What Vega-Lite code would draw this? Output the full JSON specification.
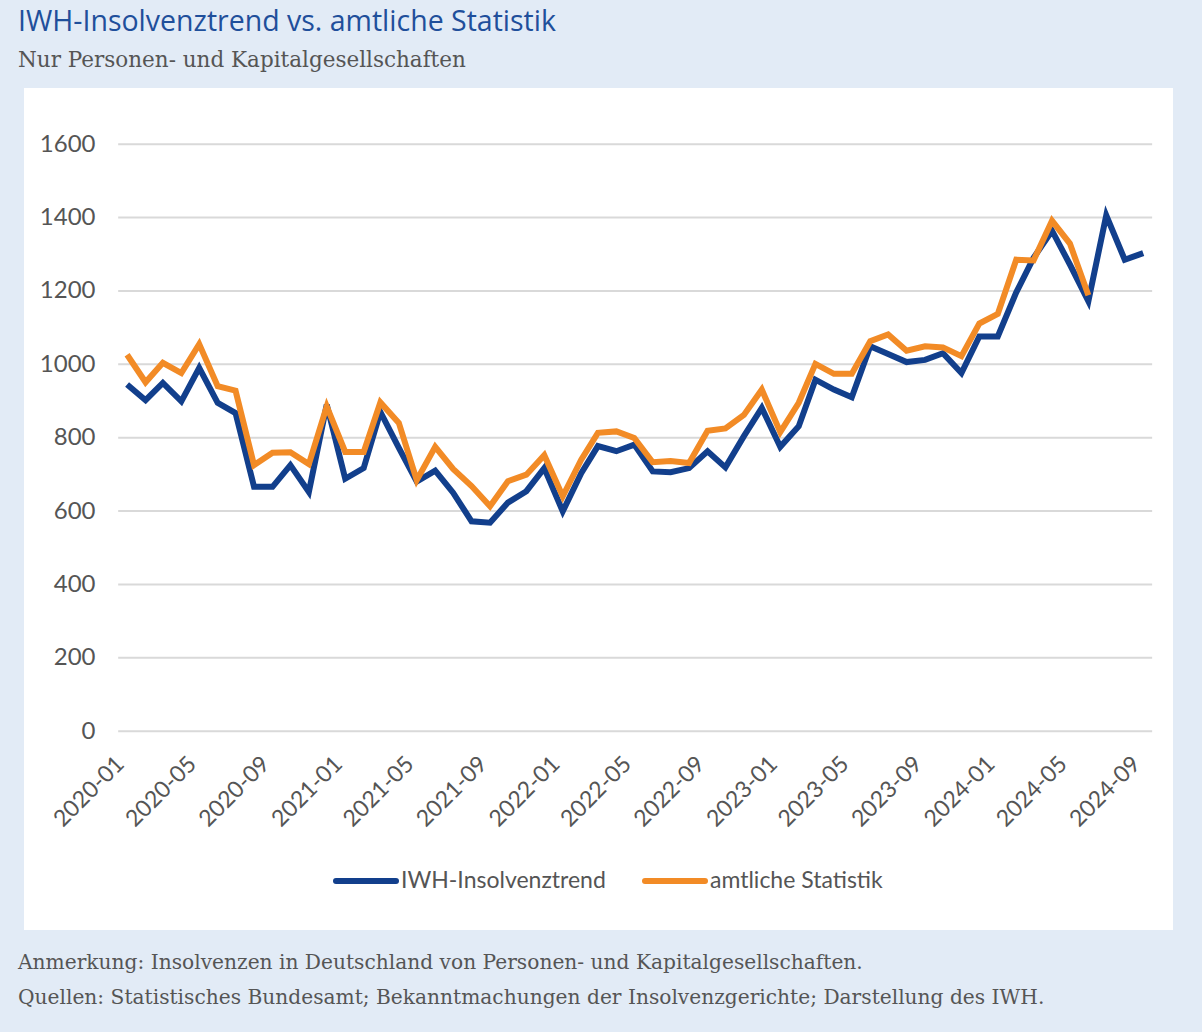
{
  "$schema": "https://vega.github.io/schema/vega-lite/v6.json",
  "background": "#e2ebf6",
  "padding": {"left": 18, "right": 29, "top": 8, "bottom": 30},
  "title": {
    "text": "Anmerkung: Insolvenzen in Deutschland von Personen- und Kapitalgesellschaften.",
    "subtitle": "Quellen: Statistisches Bundesamt; Bekanntmachungen der Insolvenzgerichte; Darstellung des IWH.",
    "orient": "bottom",
    "anchor": "start",
    "frame": "group",
    "dx": -6,
    "offset": 23,
    "font": "DejaVu Serif",
    "fontSize": 20.2,
    "fontWeight": "normal",
    "color": "#555555",
    "subtitleFont": "DejaVu Serif",
    "subtitleFontSize": 20.2,
    "subtitleColor": "#555555",
    "subtitlePadding": 15
  },
  "vconcat": [
    {
      "title": {
        "text": "IWH-Insolvenztrend vs. amtliche Statistik",
        "subtitle": "Nur Personen- und Kapitalgesellschaften",
        "anchor": "start",
        "frame": "group",
        "dx": -6,
        "offset": 17,
        "font": "Open Sans",
        "fontSize": 28.5,
        "fontWeight": "normal",
        "color": "#1f4f9b",
        "subtitleFont": "DejaVu Serif",
        "subtitleFontSize": 21.5,
        "subtitleColor": "#555555",
        "subtitlePadding": 13
      },
      "width": 1149,
      "height": 842,
      "layer": [
        {
          "data": {"values": [{"Wert": 0}, {"Wert": 200}, {"Wert": 400}, {"Wert": 600}, {"Wert": 800}, {"Wert": 1000}, {"Wert": 1200}, {"Wert": 1400}, {"Wert": 1600}]},
          "mark": {"type": "rule", "color": "#d9d9d9", "strokeWidth": 2},
          "encoding": {
            "x": {"datum": {"year": 2019, "month": 12, "date": 17, "utc": true}, "type": "temporal"},
            "x2": {"datum": {"year": 2024, "month": 9, "date": 16, "utc": true}},
            "y": {"field": "Wert", "type": "quantitative"}
          }
        },
        {
          "data": {
            "format": {"parse": {"Monat": "utc:'%Y-%m'"}},
            "values": [
              {"Monat": "2020-01", "Reihe": "IWH-Insolvenztrend", "Wert": 945},
              {"Monat": "2020-02", "Reihe": "IWH-Insolvenztrend", "Wert": 902},
              {"Monat": "2020-03", "Reihe": "IWH-Insolvenztrend", "Wert": 949},
              {"Monat": "2020-04", "Reihe": "IWH-Insolvenztrend", "Wert": 899},
              {"Monat": "2020-05", "Reihe": "IWH-Insolvenztrend", "Wert": 990},
              {"Monat": "2020-06", "Reihe": "IWH-Insolvenztrend", "Wert": 895},
              {"Monat": "2020-07", "Reihe": "IWH-Insolvenztrend", "Wert": 867},
              {"Monat": "2020-08", "Reihe": "IWH-Insolvenztrend", "Wert": 666},
              {"Monat": "2020-09", "Reihe": "IWH-Insolvenztrend", "Wert": 666},
              {"Monat": "2020-10", "Reihe": "IWH-Insolvenztrend", "Wert": 725},
              {"Monat": "2020-11", "Reihe": "IWH-Insolvenztrend", "Wert": 652},
              {"Monat": "2020-12", "Reihe": "IWH-Insolvenztrend", "Wert": 890},
              {"Monat": "2021-01", "Reihe": "IWH-Insolvenztrend", "Wert": 688},
              {"Monat": "2021-02", "Reihe": "IWH-Insolvenztrend", "Wert": 717},
              {"Monat": "2021-03", "Reihe": "IWH-Insolvenztrend", "Wert": 870},
              {"Monat": "2021-04", "Reihe": "IWH-Insolvenztrend", "Wert": 772},
              {"Monat": "2021-05", "Reihe": "IWH-Insolvenztrend", "Wert": 680},
              {"Monat": "2021-06", "Reihe": "IWH-Insolvenztrend", "Wert": 710},
              {"Monat": "2021-07", "Reihe": "IWH-Insolvenztrend", "Wert": 650},
              {"Monat": "2021-08", "Reihe": "IWH-Insolvenztrend", "Wert": 572},
              {"Monat": "2021-09", "Reihe": "IWH-Insolvenztrend", "Wert": 568},
              {"Monat": "2021-10", "Reihe": "IWH-Insolvenztrend", "Wert": 623},
              {"Monat": "2021-11", "Reihe": "IWH-Insolvenztrend", "Wert": 654},
              {"Monat": "2021-12", "Reihe": "IWH-Insolvenztrend", "Wert": 717},
              {"Monat": "2022-01", "Reihe": "IWH-Insolvenztrend", "Wert": 599},
              {"Monat": "2022-02", "Reihe": "IWH-Insolvenztrend", "Wert": 703},
              {"Monat": "2022-03", "Reihe": "IWH-Insolvenztrend", "Wert": 777},
              {"Monat": "2022-04", "Reihe": "IWH-Insolvenztrend", "Wert": 763},
              {"Monat": "2022-05", "Reihe": "IWH-Insolvenztrend", "Wert": 781},
              {"Monat": "2022-06", "Reihe": "IWH-Insolvenztrend", "Wert": 708},
              {"Monat": "2022-07", "Reihe": "IWH-Insolvenztrend", "Wert": 706},
              {"Monat": "2022-08", "Reihe": "IWH-Insolvenztrend", "Wert": 717},
              {"Monat": "2022-09", "Reihe": "IWH-Insolvenztrend", "Wert": 763},
              {"Monat": "2022-10", "Reihe": "IWH-Insolvenztrend", "Wert": 719},
              {"Monat": "2022-11", "Reihe": "IWH-Insolvenztrend", "Wert": 804},
              {"Monat": "2022-12", "Reihe": "IWH-Insolvenztrend", "Wert": 881},
              {"Monat": "2023-01", "Reihe": "IWH-Insolvenztrend", "Wert": 775},
              {"Monat": "2023-02", "Reihe": "IWH-Insolvenztrend", "Wert": 831},
              {"Monat": "2023-03", "Reihe": "IWH-Insolvenztrend", "Wert": 958},
              {"Monat": "2023-04", "Reihe": "IWH-Insolvenztrend", "Wert": 931},
              {"Monat": "2023-05", "Reihe": "IWH-Insolvenztrend", "Wert": 910},
              {"Monat": "2023-06", "Reihe": "IWH-Insolvenztrend", "Wert": 1049},
              {"Monat": "2023-07", "Reihe": "IWH-Insolvenztrend", "Wert": 1028},
              {"Monat": "2023-08", "Reihe": "IWH-Insolvenztrend", "Wert": 1006},
              {"Monat": "2023-09", "Reihe": "IWH-Insolvenztrend", "Wert": 1012},
              {"Monat": "2023-10", "Reihe": "IWH-Insolvenztrend", "Wert": 1030},
              {"Monat": "2023-11", "Reihe": "IWH-Insolvenztrend", "Wert": 976},
              {"Monat": "2023-12", "Reihe": "IWH-Insolvenztrend", "Wert": 1076},
              {"Monat": "2024-01", "Reihe": "IWH-Insolvenztrend", "Wert": 1076},
              {"Monat": "2024-02", "Reihe": "IWH-Insolvenztrend", "Wert": 1196},
              {"Monat": "2024-03", "Reihe": "IWH-Insolvenztrend", "Wert": 1290},
              {"Monat": "2024-04", "Reihe": "IWH-Insolvenztrend", "Wert": 1364},
              {"Monat": "2024-05", "Reihe": "IWH-Insolvenztrend", "Wert": 1272},
              {"Monat": "2024-06", "Reihe": "IWH-Insolvenztrend", "Wert": 1172},
              {"Monat": "2024-07", "Reihe": "IWH-Insolvenztrend", "Wert": 1406},
              {"Monat": "2024-08", "Reihe": "IWH-Insolvenztrend", "Wert": 1285},
              {"Monat": "2024-09", "Reihe": "IWH-Insolvenztrend", "Wert": 1303},
              {"Monat": "2020-01", "Reihe": "amtliche Statistik", "Wert": 1026},
              {"Monat": "2020-02", "Reihe": "amtliche Statistik", "Wert": 951},
              {"Monat": "2020-03", "Reihe": "amtliche Statistik", "Wert": 1004},
              {"Monat": "2020-04", "Reihe": "amtliche Statistik", "Wert": 976},
              {"Monat": "2020-05", "Reihe": "amtliche Statistik", "Wert": 1055},
              {"Monat": "2020-06", "Reihe": "amtliche Statistik", "Wert": 940},
              {"Monat": "2020-07", "Reihe": "amtliche Statistik", "Wert": 928},
              {"Monat": "2020-08", "Reihe": "amtliche Statistik", "Wert": 725},
              {"Monat": "2020-09", "Reihe": "amtliche Statistik", "Wert": 759},
              {"Monat": "2020-10", "Reihe": "amtliche Statistik", "Wert": 760},
              {"Monat": "2020-11", "Reihe": "amtliche Statistik", "Wert": 728},
              {"Monat": "2020-12", "Reihe": "amtliche Statistik", "Wert": 885},
              {"Monat": "2021-01", "Reihe": "amtliche Statistik", "Wert": 761},
              {"Monat": "2021-02", "Reihe": "amtliche Statistik", "Wert": 761},
              {"Monat": "2021-03", "Reihe": "amtliche Statistik", "Wert": 896},
              {"Monat": "2021-04", "Reihe": "amtliche Statistik", "Wert": 840},
              {"Monat": "2021-05", "Reihe": "amtliche Statistik", "Wert": 684},
              {"Monat": "2021-06", "Reihe": "amtliche Statistik", "Wert": 775},
              {"Monat": "2021-07", "Reihe": "amtliche Statistik", "Wert": 715},
              {"Monat": "2021-08", "Reihe": "amtliche Statistik", "Wert": 668},
              {"Monat": "2021-09", "Reihe": "amtliche Statistik", "Wert": 613},
              {"Monat": "2021-10", "Reihe": "amtliche Statistik", "Wert": 681},
              {"Monat": "2021-11", "Reihe": "amtliche Statistik", "Wert": 699},
              {"Monat": "2021-12", "Reihe": "amtliche Statistik", "Wert": 752},
              {"Monat": "2022-01", "Reihe": "amtliche Statistik", "Wert": 640},
              {"Monat": "2022-02", "Reihe": "amtliche Statistik", "Wert": 740},
              {"Monat": "2022-03", "Reihe": "amtliche Statistik", "Wert": 813},
              {"Monat": "2022-04", "Reihe": "amtliche Statistik", "Wert": 817},
              {"Monat": "2022-05", "Reihe": "amtliche Statistik", "Wert": 799},
              {"Monat": "2022-06", "Reihe": "amtliche Statistik", "Wert": 733},
              {"Monat": "2022-07", "Reihe": "amtliche Statistik", "Wert": 736},
              {"Monat": "2022-08", "Reihe": "amtliche Statistik", "Wert": 731},
              {"Monat": "2022-09", "Reihe": "amtliche Statistik", "Wert": 819},
              {"Monat": "2022-10", "Reihe": "amtliche Statistik", "Wert": 825},
              {"Monat": "2022-11", "Reihe": "amtliche Statistik", "Wert": 862},
              {"Monat": "2022-12", "Reihe": "amtliche Statistik", "Wert": 931},
              {"Monat": "2023-01", "Reihe": "amtliche Statistik", "Wert": 815},
              {"Monat": "2023-02", "Reihe": "amtliche Statistik", "Wert": 895},
              {"Monat": "2023-03", "Reihe": "amtliche Statistik", "Wert": 1001},
              {"Monat": "2023-04", "Reihe": "amtliche Statistik", "Wert": 974},
              {"Monat": "2023-05", "Reihe": "amtliche Statistik", "Wert": 974},
              {"Monat": "2023-06", "Reihe": "amtliche Statistik", "Wert": 1063},
              {"Monat": "2023-07", "Reihe": "amtliche Statistik", "Wert": 1081},
              {"Monat": "2023-08", "Reihe": "amtliche Statistik", "Wert": 1037},
              {"Monat": "2023-09", "Reihe": "amtliche Statistik", "Wert": 1049},
              {"Monat": "2023-10", "Reihe": "amtliche Statistik", "Wert": 1046},
              {"Monat": "2023-11", "Reihe": "amtliche Statistik", "Wert": 1022},
              {"Monat": "2023-12", "Reihe": "amtliche Statistik", "Wert": 1111},
              {"Monat": "2024-01", "Reihe": "amtliche Statistik", "Wert": 1137},
              {"Monat": "2024-02", "Reihe": "amtliche Statistik", "Wert": 1285},
              {"Monat": "2024-03", "Reihe": "amtliche Statistik", "Wert": 1283},
              {"Monat": "2024-04", "Reihe": "amtliche Statistik", "Wert": 1391},
              {"Monat": "2024-05", "Reihe": "amtliche Statistik", "Wert": 1329},
              {"Monat": "2024-06", "Reihe": "amtliche Statistik", "Wert": 1188}
            ]
          },
          "mark": {"type": "line", "strokeWidth": 6},
          "encoding": {
            "x": {
              "field": "Monat",
              "type": "temporal",
              "scale": {"type": "utc", "domain": [{"year": 2019, "month": 7, "date": 12, "utc": true}, {"year": 2024, "month": 10, "date": 21, "utc": true}]},
              "axis": {
                "title": null,
                "format": "%Y-%m",
                "values": [
                  {"year": 2020, "month": 1, "date": 1, "utc": true},
                  {"year": 2020, "month": 5, "date": 1, "utc": true},
                  {"year": 2020, "month": 9, "date": 1, "utc": true},
                  {"year": 2021, "month": 1, "date": 1, "utc": true},
                  {"year": 2021, "month": 5, "date": 1, "utc": true},
                  {"year": 2021, "month": 9, "date": 1, "utc": true},
                  {"year": 2022, "month": 1, "date": 1, "utc": true},
                  {"year": 2022, "month": 5, "date": 1, "utc": true},
                  {"year": 2022, "month": 9, "date": 1, "utc": true},
                  {"year": 2023, "month": 1, "date": 1, "utc": true},
                  {"year": 2023, "month": 5, "date": 1, "utc": true},
                  {"year": 2023, "month": 9, "date": 1, "utc": true},
                  {"year": 2024, "month": 1, "date": 1, "utc": true},
                  {"year": 2024, "month": 5, "date": 1, "utc": true},
                  {"year": 2024, "month": 9, "date": 1, "utc": true}
                ],
                "labelAngle": -45,
                "labelAlign": "right",
                "labelBaseline": "middle",
                "labelFont": "Lato",
                "labelFontSize": 23,
                "labelColor": "#555555",
                "labelPadding": 0,
                "labelOffset": -7,
                "labelOverlap": false,
                "labelFlush": false,
                "offset": -170,
                "ticks": false,
                "tickSize": 0,
                "domain": false,
                "grid": false
              }
            },
            "y": {
              "field": "Wert",
              "type": "quantitative",
              "scale": {"domain": [-542, 1753], "nice": false, "zero": false},
              "axis": {
                "title": null,
                "format": "d",
                "values": [0, 200, 400, 600, 800, 1000, 1200, 1400, 1600],
                "labelFont": "Lato",
                "labelFontSize": 24,
                "labelColor": "#555555",
                "labelPadding": 0,
                "offset": -71,
                "ticks": false,
                "tickSize": 0,
                "domain": false,
                "grid": false
              }
            },
            "color": {
              "field": "Reihe",
              "type": "nominal",
              "sort": null,
              "scale": {"domain": ["IWH-Insolvenztrend", "amtliche Statistik"], "range": ["#123f8c", "#f28b26"]},
              "legend": {
                "title": null,
                "orient": "none",
                "direction": "horizontal",
                "legendX": 309,
                "legendY": 760,
                "padding": 0,
                "symbolType": "stroke",
                "symbolSize": 3600,
                "symbolStrokeWidth": 6,
                "labelFont": "Lato",
                "labelFontSize": 23,
                "labelColor": "#555555",
                "labelOffset": 2,
                "labelLimit": 0,
                "columnPadding": 27,
                "encode": {"symbols": {"update": {"strokeCap": {"value": "round"}}}}
              }
            }
          }
        }
      ]
    }
  ],
  "config": {
    "view": {"stroke": null, "fill": "white"}
  }
}
